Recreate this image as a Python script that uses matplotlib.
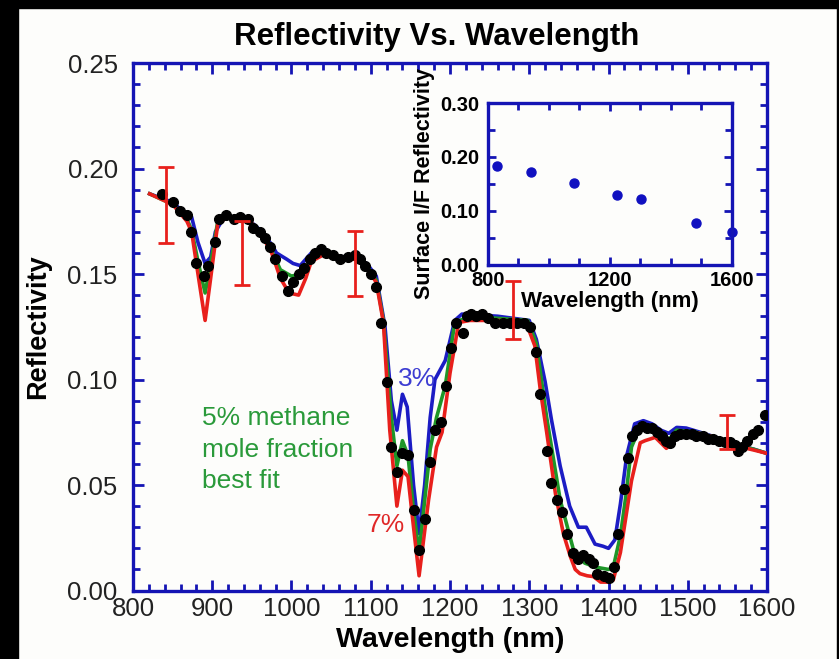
#!/usr/bin/env python3
# -*- coding: utf-8 -*-
"""
Reflectivity vs wavelength: measured points, model fits for 3/5/7 % methane,
plus an inset of the surface I/F reflectivity.
"""
import matplotlib
matplotlib.use("Agg")
import matplotlib.pyplot as plt
from matplotlib.patches import Rectangle
from matplotlib.ticker import MultipleLocator

plt.rcParams['font.family'] = ['Liberation Sans', 'DejaVu Sans']

# measured points (black dots)
mes_x = [837, 851, 859, 868, 873, 880, 889, 895, 903, 909, 917, 927, 935, 945, 952,
         960, 967, 973, 979, 988, 995, 1002, 1009, 1016, 1023, 1030, 1037, 1044, 1053,
         1061, 1071, 1080, 1086, 1093, 1100, 1107, 1113, 1120, 1126, 1133, 1139, 1147,
         1154, 1161, 1169, 1175, 1181, 1189, 1195, 1201, 1208, 1216, 1221, 1227, 1233,
         1241, 1248, 1257, 1267, 1276, 1284, 1293, 1301, 1309, 1314, 1322, 1327, 1335,
         1341, 1348, 1355, 1362, 1368, 1375, 1381, 1386, 1394, 1400, 1407, 1412, 1419,
         1424, 1430, 1436, 1442, 1448, 1455, 1461, 1467, 1473, 1478, 1484, 1490, 1498,
         1505, 1511, 1519, 1526, 1532, 1540, 1547, 1553, 1560, 1564, 1569, 1575, 1582,
         1588, 1597]
mes_y = [0.188, 0.184, 0.180, 0.178, 0.170, 0.155, 0.149, 0.154, 0.165, 0.176, 0.178,
         0.176, 0.177, 0.176, 0.172, 0.170, 0.167, 0.163, 0.157, 0.149, 0.142, 0.146,
         0.150, 0.153, 0.157, 0.160, 0.162, 0.160, 0.159, 0.157, 0.158, 0.159, 0.157,
         0.154, 0.150, 0.144, 0.127, 0.099, 0.068, 0.056, 0.065, 0.064, 0.038, 0.019,
         0.034, 0.061, 0.076, 0.080, 0.097, 0.115, 0.127, 0.122, 0.130, 0.131, 0.130,
         0.131, 0.129, 0.127, 0.127, 0.127, 0.127, 0.127, 0.125, 0.113, 0.093, 0.066,
         0.051, 0.043, 0.037, 0.027, 0.018, 0.015, 0.017, 0.015, 0.013, 0.008, 0.007,
         0.006, 0.011, 0.027, 0.048, 0.063, 0.073, 0.076, 0.078, 0.077, 0.077, 0.075,
         0.073, 0.071, 0.070, 0.073, 0.074, 0.074, 0.074, 0.073, 0.073, 0.072, 0.072,
         0.071, 0.0705, 0.0705, 0.069, 0.066, 0.068, 0.071, 0.074, 0.076, 0.083]

# model 3 % (blue)
m3_x = [821, 850, 868, 874, 882, 891, 898, 904, 915, 945, 960, 975, 981, 994, 1002,
        1011, 1025, 1040, 1060, 1080, 1095, 1107, 1118, 1126, 1133, 1140, 1146, 1154,
        1161, 1168, 1175, 1181, 1194, 1206, 1215, 1260, 1300, 1309, 1320, 1328, 1339,
        1351, 1362, 1372, 1383, 1393, 1400, 1408, 1415, 1423, 1433, 1444, 1455, 1466,
        1476, 1486, 1498, 1520, 1541, 1562, 1583, 1600]
m3_y = [0.188, 0.184, 0.178, 0.177, 0.165, 0.155, 0.158, 0.170, 0.177, 0.176, 0.171,
        0.164, 0.160, 0.157, 0.155, 0.154, 0.160, 0.161, 0.158, 0.158, 0.155, 0.149,
        0.125, 0.090, 0.076, 0.093, 0.087, 0.050, 0.027, 0.050, 0.082, 0.100, 0.109,
        0.128, 0.131, 0.130, 0.128, 0.119, 0.099, 0.081, 0.059, 0.040, 0.030, 0.030,
        0.022, 0.021, 0.020, 0.024, 0.041, 0.064, 0.079, 0.0805, 0.079, 0.076, 0.0745,
        0.0773, 0.077, 0.0745, 0.072, 0.069, 0.067, 0.065]

# model 5 % (green, best fit)
m5_x = [821, 850, 868, 874, 882, 891, 898, 907, 920, 945, 960, 975, 986, 1000, 1012,
        1025, 1040, 1060, 1080, 1095, 1107, 1116, 1126, 1133, 1140, 1147, 1154, 1161,
        1175, 1183, 1194, 1206, 1225, 1260, 1298, 1309, 1322, 1339, 1356, 1370, 1385,
        1400, 1406, 1415, 1422, 1429, 1440, 1450, 1466, 1475, 1486, 1511, 1541, 1562,
        1583, 1600]
m5_y = [0.188, 0.183, 0.176, 0.171, 0.156, 0.141, 0.155, 0.175, 0.177, 0.176, 0.170,
        0.161, 0.152, 0.149, 0.150, 0.157, 0.160, 0.158, 0.157, 0.154, 0.147, 0.128,
        0.082, 0.059, 0.071, 0.064, 0.038, 0.018, 0.067, 0.082, 0.097, 0.127, 0.130,
        0.129, 0.128, 0.117, 0.082, 0.043, 0.019, 0.013, 0.011, 0.010, 0.011, 0.026,
        0.045, 0.068, 0.0776, 0.078, 0.073, 0.071, 0.076, 0.075, 0.072, 0.069, 0.067,
        0.065]

# model 7 % (red)
m7_x = [821, 850, 868, 874, 882, 891, 898, 907, 920, 945, 960, 975, 986, 997, 1009,
        1018, 1025, 1040, 1060, 1080, 1095, 1107, 1116, 1124, 1133, 1140, 1147, 1154,
        1161, 1173, 1183, 1190, 1200, 1211, 1225, 1260, 1296, 1307, 1314, 1322, 1333,
        1343, 1352, 1358, 1364, 1373, 1381, 1390, 1400, 1406, 1415, 1422, 1429, 1440,
        1446, 1459, 1466, 1473, 1480, 1486, 1511, 1541, 1562, 1583, 1600]
m7_y = [0.188, 0.183, 0.175, 0.170, 0.150, 0.128, 0.148, 0.174, 0.177, 0.176, 0.170,
        0.160, 0.148, 0.141, 0.140, 0.148, 0.156, 0.159, 0.157, 0.157, 0.153, 0.146,
        0.127, 0.076, 0.040, 0.057, 0.054, 0.030, 0.007, 0.043, 0.068, 0.075, 0.103,
        0.127, 0.128, 0.128, 0.127, 0.116, 0.095, 0.075, 0.046, 0.027, 0.016, 0.010,
        0.008, 0.007, 0.0066, 0.004, 0.004, 0.005, 0.018, 0.035, 0.052, 0.070, 0.071,
        0.0726, 0.070, 0.0674, 0.070, 0.0748, 0.0748, 0.072, 0.0685, 0.0666, 0.065]

# error bars
err_x = [842, 938, 1080, 1279, 1550]
err_y = [0.1825, 0.160, 0.155, 0.133, 0.075]
err_e = [0.018, 0.015, 0.0156, 0.0136, 0.008]

# inset: surface I/F reflectivity
surf_x = [829, 941, 1082, 1223, 1303, 1481, 1601]
surf_y = [0.184, 0.172, 0.152, 0.129, 0.123, 0.077, 0.062]

BLEU_CADRE = '#1414b4'
BLEU = '#1c1cc4'
VERT = '#1e9628'
ROUGE = '#e8201c'

fig = plt.figure(figsize=(8.39, 6.59), dpi=100)
fig.patch.set_facecolor('#fdfdfb')
# bord noir de la capture
for r in [(0, 0, 0.0215, 1), (0, 0.988, 1, 0.012), (0.9976, 0, 0.0024, 1)]:
    fig.patches.append(Rectangle(r[:2], r[2], r[3], transform=fig.transFigure,
                                 color='black', zorder=10))

ax = fig.add_axes([0.1585, 0.1039, 0.7557, 0.8005])
ax.set_facecolor('#fdfdfb')
ax.plot(m3_x, m3_y, color=BLEU, lw=2.6, zorder=2)
ax.plot(m5_x, m5_y, color=VERT, lw=2.6, zorder=3)
ax.plot(m7_x, m7_y, color=ROUGE, lw=2.6, zorder=4)
ax.plot(mes_x, mes_y, 'o', color='black', ms=7, zorder=5)
ax.errorbar(err_x, err_y, yerr=err_e, fmt='none', ecolor=ROUGE, elinewidth=2,
            capsize=6, capthick=2, zorder=6)

ax.set_xlim(800, 1600)
ax.set_ylim(0, 0.25)
ax.xaxis.set_major_locator(MultipleLocator(100))
ax.xaxis.set_minor_locator(MultipleLocator(20))
ax.yaxis.set_major_locator(MultipleLocator(0.05))
ax.yaxis.set_minor_locator(MultipleLocator(0.01))
ax.yaxis.set_major_formatter(plt.FuncFormatter(lambda v, p: '%.2f' % v))
for s in ax.spines.values():
    s.set_color(BLEU_CADRE)
    s.set_linewidth(2.4)
ax.tick_params(which='both', direction='in', top=True, right=True,
               color=BLEU_CADRE, width=2, labelsize=18.5, labelcolor='#222222')
ax.tick_params(which='major', length=8)
ax.tick_params(which='minor', length=5)
ax.tick_params(axis='x', pad=5)
ax.tick_params(axis='y', pad=11)

ax.set_xlabel('Wavelength (nm)', fontsize=20.5, fontweight='bold', labelpad=4)
ax.set_ylabel('Reflectivity', fontsize=19.5, fontweight='bold', labelpad=12)
ax.set_title('Reflectivity Vs. Wavelength', fontsize=22.5, fontweight='bold',
             pad=13, x=0.4795)

ax.text(1134, 0.1003, '3%', color='#3c3cd2', fontsize=19, ha='left', va='center')
ax.text(1095, 0.0310, '7%', color='#e02828', fontsize=19, ha='left', va='center')
ax.text(887, 0.0668, '5% methane\nmole fraction\nbest fit', color='#2a9a3a',
        fontsize=19, ha='left', va='center', linespacing=1.38)

# encart
axi = fig.add_axes([0.5816, 0.5979, 0.2908, 0.2458])
axi.set_facecolor('#fdfdfb')
axi.plot(surf_x, surf_y, 'o', color='#1010c0', ms=6.5, clip_on=False)
axi.set_xlim(800, 1600)
axi.set_ylim(0, 0.30)
axi.xaxis.set_major_locator(MultipleLocator(400))
axi.xaxis.set_minor_locator(MultipleLocator(100))
axi.yaxis.set_major_locator(MultipleLocator(0.10))
axi.yaxis.set_minor_locator(MultipleLocator(0.05))
axi.yaxis.set_major_formatter(plt.FuncFormatter(lambda v, p: '%.2f' % v))
for s in axi.spines.values():
    s.set_color(BLEU_CADRE)
    s.set_linewidth(2.4)
axi.tick_params(which='both', direction='in', top=True, right=True,
                color=BLEU_CADRE, width=2, labelsize=14.5)
axi.tick_params(which='major', length=6)
axi.tick_params(which='minor', length=5)
axi.tick_params(axis='x', pad=4)
axi.tick_params(axis='y', pad=6)
for lab in axi.get_xticklabels() + axi.get_yticklabels():
    lab.set_fontweight('bold')
axi.set_xlabel('Wavelength (nm)', fontsize=16, fontweight='bold', labelpad=1)
axi.set_ylabel('Surface I/F Reflectivity', fontsize=15.5, fontweight='bold', labelpad=4)

fig.savefig('out.png', dpi=100, facecolor=fig.get_facecolor())
